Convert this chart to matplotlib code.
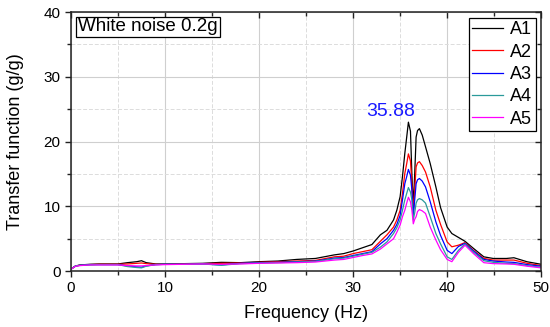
import numpy as np
import matplotlib
matplotlib.use('Agg')
import matplotlib.pyplot as plt
from matplotlib.ticker import MultipleLocator
from matplotlib.lines import TICKLEFT, TICKDOWN

plt.rcParams['font.family'] = ['Liberation Sans', 'DejaVu Sans']

# frequency points (Hz) shared by all channels
freq = [0, 0.5, 1, 2, 3, 4, 5, 6, 7, 7.5, 8, 9, 10, 12, 14, 16, 18, 20, 22,
        24, 26, 28, 29, 30, 31, 32, 32.9, 33.6, 34.3, 34.65, 35.0, 35.25,
        35.5, 35.7, 35.88, 36.1, 36.25, 36.4, 36.55, 36.7, 36.85, 37.05,
        37.35, 37.7, 38.2, 38.8, 39.3, 40.0, 40.5, 41.2, 41.9, 42.8, 43.9,
        44.9, 46.3, 47.1, 48.5, 50.0]

A1 = [0.3, 0.8, 0.95, 1.05, 1.1, 1.1, 1.1, 1.3, 1.45, 1.6, 1.3, 1.1, 1.1,
      1.15, 1.2, 1.35, 1.3, 1.45, 1.55, 1.8, 1.95, 2.5, 2.7, 3.1, 3.6, 4.1,
      5.6, 6.3, 7.9, 9.4, 11.5, 14.6, 18.2, 20.7, 23.0, 21.6, 15.0, 10.0,
      15.0, 20.7, 21.7, 22.0, 21.0, 19.2, 16.6, 13.0, 9.8, 6.8, 5.8, 5.2,
      4.6, 3.5, 2.2, 1.95, 1.95, 2.06, 1.44, 1.05]
A2 = [0.3, 0.8, 0.9, 1.0, 1.05, 1.05, 1.05, 1.1, 1.2, 1.25, 1.15, 1.05, 1.05,
      1.1, 1.15, 1.2, 1.25, 1.35, 1.45, 1.55, 1.65, 2.2, 2.3, 2.7, 3.0, 3.3,
      4.6, 5.6, 6.8, 7.9, 9.4, 12.0, 15.1, 16.6, 18.1, 17.0, 13.5, 9.0,
      12.5, 16.1, 16.7, 16.9, 16.3, 15.3, 13.0, 9.4, 7.2, 4.5, 3.75, 4.0,
      4.4, 3.2, 1.95, 1.7, 1.7, 1.7, 1.2, 0.85]
A3 = [0.3, 0.8, 0.9, 1.0, 1.0, 1.0, 1.0, 0.8, 0.65, 0.6, 0.8, 1.0, 1.05,
      1.05, 1.1, 0.95, 1.2, 1.3, 1.35, 1.45, 1.55, 2.0, 2.1, 2.4, 2.7, 3.0,
      4.2, 5.0, 6.3, 7.2, 8.6, 11.0, 13.5, 14.6, 15.7, 14.8, 12.5, 8.5,
      11.0, 13.5, 14.1, 14.3, 13.9, 13.0, 10.7, 7.6, 5.5, 3.2, 2.7, 3.8,
      4.3, 3.1, 1.8, 1.55, 1.4, 1.35, 1.0, 0.75]
A4 = [0.3, 0.8, 0.9, 0.95, 1.0, 1.0, 1.0, 0.7, 0.55, 0.5, 0.75, 1.0, 1.05,
      1.05, 1.1, 0.9, 1.15, 1.25, 1.3, 1.4, 1.5, 1.9, 2.0, 2.3, 2.6, 2.9,
      3.7, 4.5, 5.8, 6.7, 7.9, 9.4, 11.0, 12.0, 12.9, 12.2, 11.0, 7.9,
      9.0, 10.5, 11.0, 11.2, 11.0, 10.5, 8.4, 5.8, 4.2, 2.2, 1.8, 3.2, 4.2,
      2.9, 1.6, 1.35, 1.2, 1.15, 0.85, 0.6]
A5 = [0.3, 0.75, 0.85, 0.95, 0.95, 0.95, 0.95, 0.85, 0.8, 0.8, 0.85, 0.95,
      1.0, 1.05, 1.1, 1.05, 1.1, 1.2, 1.25, 1.3, 1.4, 1.7, 1.8, 2.1, 2.4,
      2.65, 3.4, 4.2, 5.0, 6.0, 7.1, 8.4, 9.4, 10.5, 11.4, 10.7, 9.4, 7.3,
      8.0, 8.4, 9.2, 9.5, 9.3, 8.9, 6.8, 4.8, 3.3, 1.8, 1.45, 2.9, 4.0, 2.7,
      1.3, 1.15, 1.1, 1.05, 0.75, 0.5]

names = ['A1', 'A2', 'A3', 'A4', 'A5']
colors = ['#000000', '#ff0000', '#0000ff', '#2a9a9a', '#ff00ff']
peak_freq = 35.88

fig = plt.figure(figsize=(5.5, 3.27), dpi=100)
ax = fig.add_axes([0.129, 0.171, 0.855, 0.792])

for y, name, c in zip([A1, A2, A3, A4, A5], names, colors):
    ax.plot(freq, y, '-', color=c, lw=0.9, label=name)

ax.set_xlim(0, 50)
ax.set_ylim(0, 40)
ax.xaxis.set_major_locator(MultipleLocator(10))
ax.xaxis.set_minor_locator(MultipleLocator(5))
ax.yaxis.set_major_locator(MultipleLocator(10))
ax.yaxis.set_minor_locator(MultipleLocator(5))

ax.grid(which='major', color='#cfcfcf', lw=0.8, ls='-')
ax.grid(which='minor', color='#dcdcdc', lw=0.7, ls=(0, (4, 2)))
ax.set_axisbelow(True)

for s in ax.spines.values():
    s.set_linewidth(1.1)
    s.set_color('#222222')

# left/bottom ticks point out, right/top ticks point into the frame
ax.tick_params(which='both', direction='out', labelsize=11, width=1.0,
               color='#222222', right=True, top=True)
ax.tick_params(which='major', length=4)
ax.tick_params(which='minor', length=3)
for t in ax.yaxis.get_ticklines()[1::2] + ax.yaxis.get_ticklines(minor=True)[1::2]:
    t.set_marker(TICKLEFT)
for t in ax.xaxis.get_ticklines()[1::2] + ax.xaxis.get_ticklines(minor=True)[1::2]:
    t.set_marker(TICKDOWN)

ax.set_xlabel('Frequency (Hz)', fontsize=13, labelpad=7)
ax.set_ylabel('Transfer function (g/g)', fontsize=13, labelpad=14)

ax.text(0.75, 37.7, 'White noise 0.2g', fontsize=13.5, va='center', ha='left',
        bbox=dict(boxstyle='square,pad=0.1', fc='white', ec='black', lw=0.9))

ax.text(34.0, 24.6, '%.2f' % peak_freq, color='#1a1aff', fontsize=14,
        ha='center', va='center')

leg = ax.legend(loc='upper right', fontsize=13, handlelength=1.7,
                handletextpad=0.4, labelspacing=0.3, borderpad=0.2,
                borderaxespad=0.3, fancybox=False, framealpha=1,
                edgecolor='black')
leg.get_frame().set_linewidth(0.9)

fig.savefig('out.png', dpi=100)
